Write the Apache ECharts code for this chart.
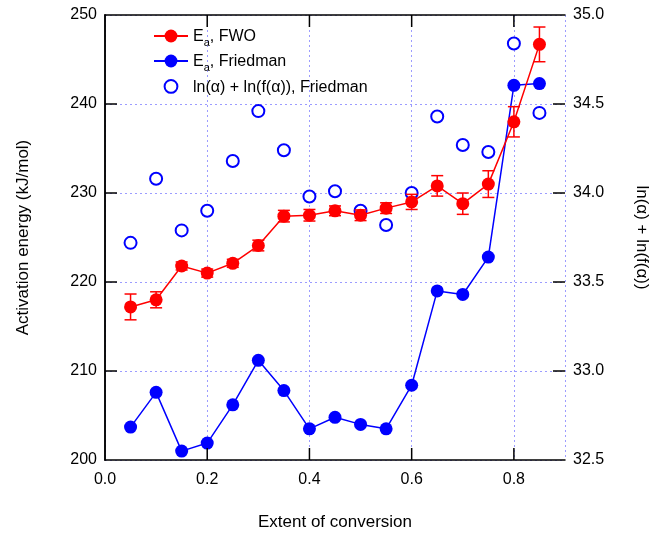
<!DOCTYPE html>
<html>
<head>
<meta charset="utf-8">
<script src="https://cdn.jsdelivr.net/npm/echarts@6/dist/echarts.min.js"></script>
<style>html,body{margin:0;padding:0;background:#fff}#c{width:657px;height:534px}</style>
</head>
<body>
<div id="c"></div>
<script>
const alpha = [0.05, 0.10, 0.15, 0.20, 0.25, 0.30, 0.35, 0.40, 0.45, 0.50, 0.55, 0.60, 0.65, 0.70, 0.75, 0.80, 0.85];
const eaFWO = [217.2, 218.0, 221.8, 221.0, 222.1, 224.1, 227.4, 227.5, 228.0, 227.5, 228.3, 229.0, 230.8, 228.8, 231.0, 238.0, 246.7];
const eaFWOErr = [1.45, 0.9, 0.45, 0.45, 0.45, 0.6, 0.65, 0.65, 0.55, 0.6, 0.6, 0.85, 1.15, 1.2, 1.5, 1.7, 1.95];
const eaFriedman = [203.7, 207.6, 201.0, 201.9, 206.2, 211.2, 207.8, 203.5, 204.8, 204.0, 203.5, 208.4, 219.0, 218.6, 222.8, 242.1, 242.3];
const lnTerm = [33.72, 34.08, 33.79, 33.90, 34.18, 34.46, 34.24, 33.98, 34.01, 33.90, 33.82, 34.00, 34.43, 34.27, 34.23, 34.84, 34.45];
const xRange = {min: 0, max: 0.9, interval: 0.2};
const yLeftRange = {min: 200, max: 250, interval: 10};
const yRightRange = {min: 32.5, max: 35, interval: 0.5};
const xTickVals = [0.2, 0.4, 0.6, 0.8];
const yLeftTickVals = [210, 220, 230, 240];
const yRightTickVals = [33.0, 33.5, 34.0, 34.5];

const FONT = "'Liberation Sans', Arial, sans-serif";
const RED = '#ff0000', BLUE = '#0000ff';
const TICK = 12;
const gridLine = {show: true, lineStyle: {color: '#9c9cff', type: [2, 3], width: 1}};
const axLine = {show: true, lineStyle: {color: '#000', width: 1.5}};
const lbl = {fontSize: 16, color: '#000', fontFamily: FONT};
const tickStyle = {stroke: '#000', lineWidth: 1.5};

function lineEl(x1, y1, x2, y2, st) {
  return {type: 'line', shape: {x1: x1, y1: y1, x2: x2, y2: y2}, style: st};
}

const chart = echarts.init(document.getElementById('c'), null, {renderer: 'canvas'});
const option = {
  animation: false,
  backgroundColor: '#fff',
  grid: {left: 105, right: 92, top: 15, bottom: 74, containLabel: false, outerBoundsMode: 'none'},
  legend: {
    orient: 'vertical', left: 153, top: 29, padding: 0,
    itemWidth: 34, itemHeight: 16, itemGap: 6, itemTextGap: 5,
    data: ['FWO', 'Friedman', 'ln'],
    formatter: function (n) {
      if (n === 'FWO') return '{n|E}{s|a}{n|, FWO}';
      if (n === 'Friedman') return '{n|E}{s|a}{n|, Friedman}';
      return '{n|ln(α) + ln(f(α)), Friedman}';
    },
    textStyle: {
      fontFamily: FONT, color: '#000', fontSize: 16,
      rich: {
        n: {fontSize: 16, fontFamily: FONT, color: '#000', lineHeight: 18, verticalAlign: 'bottom'},
        s: {fontSize: 11, fontFamily: FONT, color: '#000', lineHeight: 11, verticalAlign: 'bottom', padding: [0, 0, -3, 0]}
      }
    }
  },
  xAxis: [{
    type: 'value', min: xRange.min, max: xRange.max, interval: xRange.interval,
    name: 'Extent of conversion', nameLocation: 'middle', nameGap: 54,
    nameTextStyle: {fontSize: 17, color: '#000', fontFamily: FONT},
    axisLine: axLine, axisTick: {show: false}, splitLine: gridLine,
    axisLabel: Object.assign({margin: 12, showMaxLabel: false, formatter: v => v.toFixed(1)}, lbl)
  }, {
    type: 'value', position: 'top', min: xRange.min, max: xRange.max, interval: xRange.interval,
    axisLine: axLine, axisTick: {show: false}, splitLine: {show: false}, axisLabel: {show: false}
  }],
  yAxis: [{
    type: 'value', min: yLeftRange.min, max: yLeftRange.max, interval: yLeftRange.interval,
    name: 'Activation energy (kJ/mol)', nameLocation: 'middle', nameGap: 73, nameRotate: 90,
    nameTextStyle: {fontSize: 17, color: '#000', fontFamily: FONT},
    axisLine: axLine, axisTick: {show: false}, splitLine: gridLine,
    axisLabel: Object.assign({margin: 8, padding: [4, 0, 0, 0]}, lbl)
  }, {
    type: 'value', position: 'right', min: yRightRange.min, max: yRightRange.max, interval: yRightRange.interval,
    name: 'ln(α) + ln(f(α))', nameLocation: 'middle', nameGap: 68, nameRotate: -90,
    nameTextStyle: {fontSize: 17, color: '#000', fontFamily: FONT},
    axisLine: axLine, axisTick: {show: false}, splitLine: {show: false},
    axisLabel: Object.assign({margin: 8, padding: [4, 0, 0, 0], formatter: v => v.toFixed(1)}, lbl)
  }],
  series: [{
    name: 'xTicks', type: 'custom', xAxisIndex: 0, yAxisIndex: 0, silent: true, clip: false, z: 10,
    renderItem: function (params, api) {
      const v = api.value(0);
      const b = api.coord([v, yLeftRange.min]), t = api.coord([v, yLeftRange.max]);
      return {type: 'group', children: [
        lineEl(b[0], b[1], b[0], b[1] - TICK, tickStyle),
        lineEl(t[0], t[1], t[0], t[1] + TICK, tickStyle)
      ]};
    },
    data: xTickVals.map(v => [v, yLeftRange.min])
  }, {
    name: 'yLeftTicks', type: 'custom', xAxisIndex: 0, yAxisIndex: 0, silent: true, clip: false, z: 10,
    renderItem: function (params, api) {
      const p = api.coord([xRange.min, api.value(1)]);
      return lineEl(p[0], p[1], p[0] + TICK, p[1], tickStyle);
    },
    data: yLeftTickVals.map(v => [xRange.min, v])
  }, {
    name: 'yRightTicks', type: 'custom', xAxisIndex: 0, yAxisIndex: 1, silent: true, clip: false, z: 10,
    renderItem: function (params, api) {
      const p = api.coord([xRange.max, api.value(1)]);
      return lineEl(p[0], p[1], p[0] - TICK, p[1], tickStyle);
    },
    data: yRightTickVals.map(v => [xRange.max, v])
  }, {
    name: 'ln', type: 'line', yAxisIndex: 1,
    symbol: 'emptyCircle', symbolSize: 12, showSymbol: true,
    lineStyle: {opacity: 0, width: 0},
    itemStyle: {color: BLUE, borderColor: BLUE, borderWidth: 1.5},
    data: alpha.map((a, i) => [a, lnTerm[i]]), z: 2
  }, {
    name: 'Friedman', type: 'line', yAxisIndex: 0,
    symbol: 'circle', symbolSize: 13,
    lineStyle: {color: BLUE, width: 1.5}, itemStyle: {color: BLUE},
    data: alpha.map((a, i) => [a, eaFriedman[i]]), z: 3
  }, {
    name: 'errFWO', type: 'custom', yAxisIndex: 0, z: 4,
    renderItem: function (params, api) {
      const x = api.value(0), y = api.value(1), e = api.value(2);
      const lo = api.coord([x, y - e]), hi = api.coord([x, y + e]);
      const w = 6;
      const st = {stroke: RED, lineWidth: 1.5};
      return {type: 'group', children: [
        lineEl(lo[0], lo[1], hi[0], hi[1], st),
        lineEl(lo[0] - w, lo[1], lo[0] + w, lo[1], st),
        lineEl(hi[0] - w, hi[1], hi[0] + w, hi[1], st)
      ]};
    },
    data: alpha.map((a, i) => [a, eaFWO[i], eaFWOErr[i]])
  }, {
    name: 'FWO', type: 'line', yAxisIndex: 0,
    symbol: 'circle', symbolSize: 13,
    lineStyle: {color: RED, width: 1.5}, itemStyle: {color: RED},
    data: alpha.map((a, i) => [a, eaFWO[i]]), z: 5
  }]
};
chart.setOption(option);
</script>
</body>
</html>
